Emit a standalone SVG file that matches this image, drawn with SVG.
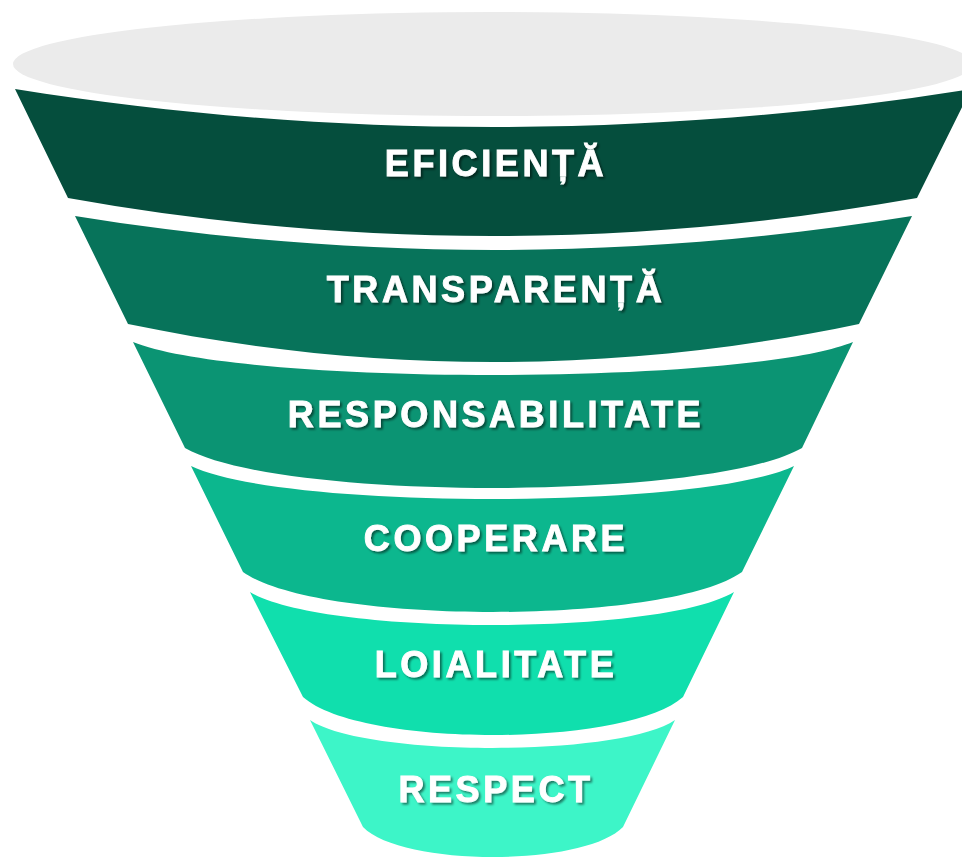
<svg xmlns="http://www.w3.org/2000/svg" width="962" height="857" viewBox="0 0 962 857">
  <defs>
    <filter id="shadow" x="-10%" y="-30%" width="120%" height="160%">
      <feDropShadow dx="2" dy="2" stdDeviation="1.2" flood-color="#000000" flood-opacity="0.5"/>
    </filter>
    <style>
      .lbl { font-family: "Liberation Sans", Arial, sans-serif; font-weight: bold; font-size: 36px; letter-spacing: 3.6px; fill: #ffffff; stroke: #ffffff; stroke-width: 0.9px; text-anchor: middle; filter: url(#shadow); }
    </style>
  </defs>
  <rect width="962" height="857" fill="#ffffff"/>
  <g id="rim">
    <ellipse cx="493" cy="64" rx="480" ry="52" fill="#EBEBEB"/>
  </g>
  <g id="band1">
    <path d="M15,89 C333.7,139.7 652.3,139.7 971,89 L917,198 C634,248.7 351,248.7 68,198 Z" fill="#054E3D"/>
    <text class="lbl" x="496" y="176">EFICIENȚĂ</text>
  </g>
  <g id="band2">
    <path d="M75,216 C354,261.3 633,261.3 912,216 L859,324 C615.3,374.7 371.7,374.7 128,324 Z" fill="#07735A"/>
    <text class="lbl" x="496" y="302">TRANSPARENȚĂ</text>
  </g>
  <g id="band3">
    <path d="M133,342 C241,386 745,386 853,342 L802,448 C709.4,501.3 277.6,501.3 185,448 Z" fill="#0B9473"/>
    <text class="lbl" x="496" y="427">RESPONSABILITATE</text>
  </g>
  <g id="band4">
    <path d="M191,466 C281.5,510 703.5,510 794,466 L742,572 C667.1,625.3 317.9,625.3 243,572 Z" fill="#0CB78E"/>
    <text class="lbl" x="496" y="551">COOPERARE</text>
  </g>
  <g id="band5">
    <path d="M250,592 C322.6,636 661.4,636 734,592 L683,697 C626,747.7 360,747.7 303,697 Z" fill="#10DFAD"/>
    <text class="lbl" x="496" y="677">LOIALITATE</text>
  </g>
  <g id="band6">
    <path d="M310,720 C364.75,757.3 620.25,757.3 675,720 L623,827 C584,867 402,867 363,827 Z" fill="#3DF5C8"/>
    <text class="lbl" x="496" y="802">RESPECT</text>
  </g>
  <g id="connectors"/>
</svg>
